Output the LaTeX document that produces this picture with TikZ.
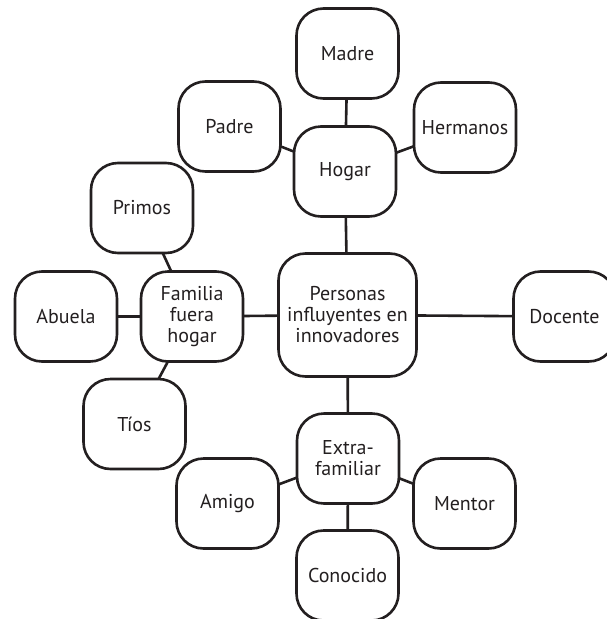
\documentclass[tikz,border=0pt]{standalone}
\usepackage{fontspec}
\setmainfont{PT Sans}
\usepackage{xcolor}
\usepackage{tikz}
\usetikzlibrary{positioning}
\usetikzlibrary{backgrounds}
\definecolor{ink}{HTML}{231F20}

\begin{document}
\begin{tikzpicture}[x=1pt,y=-1pt,
    box/.style={draw=ink, line width=2.6pt, rounded corners=27pt, fill=white,
                text=ink, minimum width=102pt, minimum height=90pt,
                align=center, inner sep=2pt, font=\fontsize{20}{21}\selectfont},
    link/.style={draw=ink, line width=2.6pt}]
  \path[use as bounding box, clip] (0,0) rectangle (607,619);
  % centre
  \node[box, minimum width=138pt, minimum height=123pt] (personas) at (347.5,315)
       {Personas\\influyentes en\\innovadores};
  % hogar
  \node[box] (hogar)    at (345,171.5)   {Hogar};
  \node[box] (madre)    at (347.5,53.5)  {Madre};
  \node[box] (padre)    at (229.5,126.5) {Padre};
  \node[box] (hermanos) at (465,127.5)   {Hermanos};
  % familia fuera hogar
  \node[box] (familia)  at (192,316.5)   {Familia\\fuera\\hogar};
  \node[box] (primos)   at (142,208)     {Primos};
  \node[box] (abuela)   at (66,316.5)    {Abuela};
  \node[box] (tios)     at (134.5,424)   {Tíos};
  % extra-familiar
  \node[box] (extra)    at (348,458.5)   {Extra-\\familiar};
  \node[box] (amigo)    at (227.5,503.5) {Amigo};
  \node[box] (mentor)   at (464.5,503.5) {Mentor};
  \node[box] (conocido) at (347.5,575.5) {Conocido};
  \node[box] (docente)  at (564.5,316.5) {Docente};
  \begin{scope}[on background layer]
    \path[link]
      (personas.center) edge (hogar.center)
                        edge (familia.center)
                        edge (extra.center)
                        edge (docente.center)
      (hogar.center) edge (madre.center)
                     edge (padre.center)
                     edge (hermanos.center)
      (familia.center) edge (primos.center)
                       edge (abuela.center)
                       edge (tios.center)
      (extra.center) edge (amigo.center)
                     edge (mentor.center)
                     edge (conocido.center);
  \end{scope}
\end{tikzpicture}
\end{document}
